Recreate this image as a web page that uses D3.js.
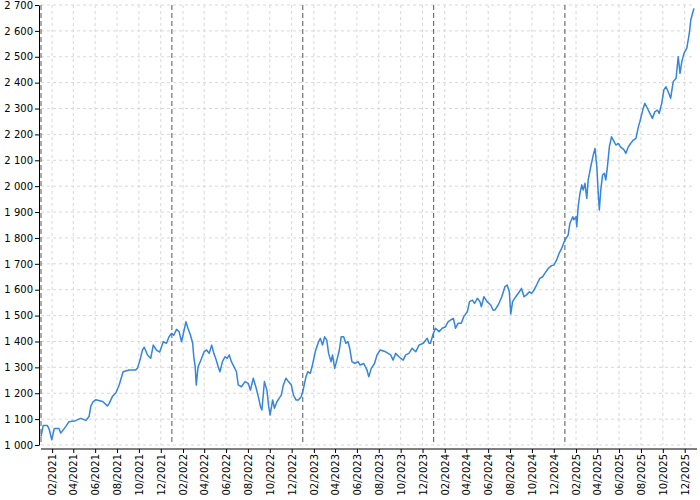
<!DOCTYPE html>
<html>
<head>
<meta charset="utf-8">
<script src="https://cdn.jsdelivr.net/npm/d3@7"></script>
<style>
  body { margin: 0; background: #fff; }
  svg text { font-family: "DejaVu Sans", sans-serif; font-size: 10px; fill: #000; }
</style>
</head>
<body>
<div id="chart"></div>
<script>
// series start, offsets in days from it, and values
const startDate = "2021-01-01";
const dayOffsets = [
  0,6,18,23,30,37,50,55,69,78,
  96,111,125,134,139,145,153,172,185,190,
  199,209,218,229,246,264,269,276,283,288,
  297,306,313,322,331,341,350,357,364,370,
  378,385,392,396,404,410,417,423,426,430,
  433,438,448,455,462,469,476,482,487,494,
  499,506,513,519,525,531,538,545,550,559,
  569,578,584,592,599,606,612,616,623,630,
  635,639,646,651,658,664,670,676,683,690,
  698,704,711,718,726,732,739,744,751,757,
  765,774,779,785,791,797,802,809,813,819,
  825,832,837,844,850,856,861,867,876,884,
  890,900,909,914,921,930,937,946,961,975,
  982,989,998,1010,1017,1026,1035,1045,1054,1066,
  1073,1077,1082,1086,1094,1100,1110,1119,1128,1135,
  1142,1150,1156,1163,1172,1179,1189,1195,1203,1209,
  1217,1224,1228,1235,1244,1254,1261,1266,1275,1285,
  1294,1300,1306,1310,1315,1324,1334,1340,1347,1354,
  1362,1368,1375,1382,1391,1399,1405,1415,1424,1430,
  1438,1445,1452,1461,1470,1475,1483,1486,1492,1494,
  1498,1503,1508,1512,1517,1522,1526,1533,1540,1545,
  1550,1554,1557,1561,1566,1571,1575,1579,1585,1591,
  1596,1603,1610,1616,1626,1631,1638,1644,1652,1659,
  1666,1670,1678,1684,1691,1698,1705,1712,1719,1724,
  1731,1737,1743,1749,1756,1763,1771,1777,1782,1787,
  1793,1801,1808,1812,1817,1821
];
const values = [
  1032,1075,1075,1060,1020,1064,1064,1046,1071,1090,
  1094,1103,1095,1110,1150,1167,1175,1168,1151,1160,
  1187,1202,1232,1283,1290,1290,1297,1328,1367,1378,
  1348,1335,1386,1367,1359,1399,1393,1418,1431,1424,
  1447,1438,1399,1424,1476,1450,1424,1393,1341,1302,
  1232,1302,1335,1361,1367,1354,1386,1354,1335,1303,
  1283,1322,1341,1335,1348,1322,1303,1283,1232,1225,
  1245,1238,1212,1258,1225,1187,1148,1135,1245,1212,
  1148,1116,1174,1142,1167,1180,1193,1232,1258,1245,
  1232,1193,1174,1174,1187,1219,1264,1283,1277,1309,
  1361,1399,1412,1386,1418,1405,1354,1322,1348,1296,
  1328,1367,1418,1418,1393,1399,1373,1322,1315,1322,
  1309,1315,1290,1264,1296,1315,1348,1367,1360,1348,
  1328,1354,1341,1328,1348,1354,1374,1360,1386,1393,
  1406,1412,1393,1393,1431,1451,1438,1451,1457,1476,
  1483,1489,1451,1470,1470,1496,1515,1554,1560,1547,
  1567,1554,1534,1573,1554,1541,1521,1522,1541,1573,
  1612,1618,1592,1506,1554,1573,1592,1605,1573,1580,
  1592,1586,1599,1618,1644,1650,1663,1683,1693,1695,
  1715,1741,1760,1792,1811,1857,1882,1870,1882,1843,
  1921,1972,2005,1985,2011,1953,2024,2075,2120,2146,
  2075,1972,1908,1985,2043,2050,2024,2068,2152,2191,
  2178,2159,2165,2152,2140,2127,2152,2165,2178,2185,
  2230,2249,2294,2320,2301,2281,2262,2288,2294,2281,
  2320,2372,2384,2365,2340,2404,2417,2500,2436,2481,
  2513,2533,2591,2642,2668,2687
];
const yTickValues = [1000,1100,1200,1300,1400,1500,1600,1700,1800,1900,2000,2100,2200,2300,2400,2500,2600,2700];
const xTickFormat = "%m/%Y";

const width = 700, height = 500;
const plotLeft = 41, plotRight = 694, plotTop = 5, plotBottom = 445;

const start = d3.utcParse("%Y-%m-%d")(startDate);
const data = dayOffsets.map((d, i) => ({date: d3.utcDay.offset(start, d), value: values[i]}));

const svg = d3.select("#chart").append("svg")
    .attr("width", width)
    .attr("height", height);

const x = d3.scaleUtc()
    .domain(d3.extent(data, d => d.date))
    .range([plotLeft, plotRight]);

const y = d3.scaleLinear()
    .domain([yTickValues[0], yTickValues[yTickValues.length - 1]])
    .range([plotBottom, plotTop]);

// tick every second month, Feb/Apr/...
const xTicks = d3.utcMonth.range(x.domain()[0], x.domain()[1])
    .filter(d => d.getUTCMonth() % 2 === 1);

const locale = d3.formatLocale({decimal: ",", thousands: "\u00a0", grouping: [3], currency: ["", ""]});
const yFormat = locale.format(",d");

// grid
const grid = svg.append("g").attr("class", "grid");
grid.selectAll("line.h")
    .data(yTickValues)
    .join("line")
    .attr("class", "h")
    .attr("x1", plotLeft).attr("x2", plotRight + 1)
    .attr("y1", d => y(d)).attr("y2", d => y(d))
    .attr("stroke", "#d8d8d8")
    .attr("stroke-dasharray", "3,3");
grid.selectAll("line.v")
    .data(xTicks)
    .join("line")
    .attr("class", "v")
    .attr("x1", d => x(d)).attr("x2", d => x(d))
    .attr("y1", plotTop).attr("y2", plotBottom)
    .attr("stroke", "#d8d8d8")
    .attr("stroke-dasharray", "3,3");

// year boundaries
const years = d3.utcYear.range(x.domain()[0], x.domain()[1]);
svg.append("g").selectAll("line")
    .data(years)
    .join("line")
    .attr("x1", d => x(d)).attr("x2", d => x(d))
    .attr("y1", plotTop).attr("y2", plotBottom)
    .attr("stroke", "#555")
    .attr("stroke-dasharray", "5,3");

// series
const line = d3.line()
    .x(d => x(d.date))
    .y(d => y(d.value));

svg.append("path")
    .datum(data)
    .attr("fill", "none")
    .attr("stroke", "#3585db")
    .attr("stroke-width", 1.5)
    .attr("stroke-linejoin", "round")
    .attr("d", line);

// axes
const yAxis = d3.axisLeft(y)
    .tickValues(yTickValues)
    .tickFormat(yFormat)
    .tickSize(4)
    .tickSizeOuter(0)
    .tickPadding(2);
svg.append("g")
    .attr("transform", "translate(39,0)")
    .call(yAxis)
    .call(g => g.selectAll("text").style("font-size", "10px").style("font-family", "DejaVu Sans"));

const xAxis = d3.axisBottom(x)
    .tickValues(xTicks)
    .tickFormat(d3.utcFormat(xTickFormat))
    .tickSize(4)
    .tickSizeOuter(0);
svg.append("g")
    .attr("transform", "translate(0,449)")
    .call(xAxis)
    .call(g => g.select(".domain").attr("d", "M" + plotLeft + ",0H" + (plotRight + 3)))
    .call(g => g.selectAll("text")
        .style("font-size", "10px")
        .style("font-family", "DejaVu Sans")
        .attr("transform", "rotate(-90)")
        .attr("text-anchor", "end")
        .attr("x", -5)
        .attr("y", 0)
        .attr("dy", "0.35em"));
</script>
</body>
</html>
